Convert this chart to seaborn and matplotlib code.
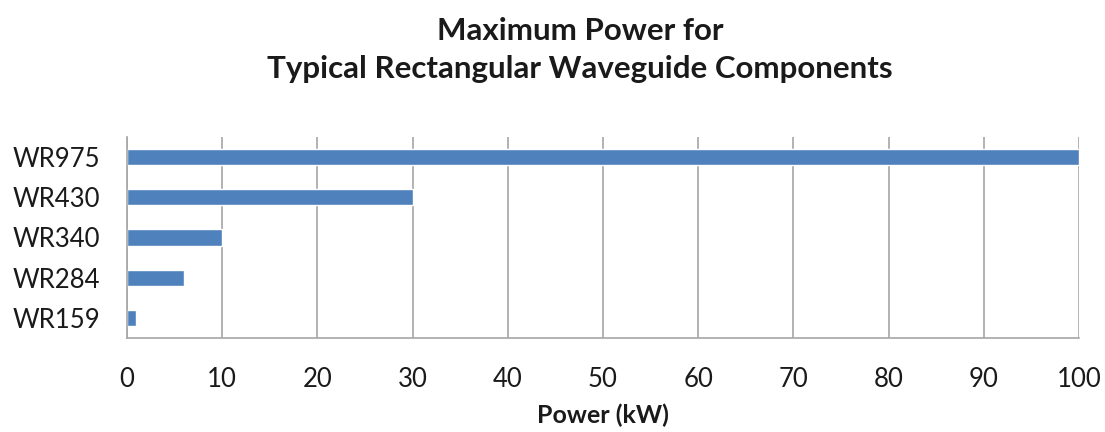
import numpy as np
import pandas as pd
import matplotlib
matplotlib.use("Agg")
import matplotlib.pyplot as plt
import seaborn as sns
from matplotlib.ticker import FixedLocator

categories = ["WR975", "WR430", "WR340", "WR284", "WR159"]
power_kw = [100, 30, 10, 6, 1]
x_ticks = [0, 10, 20, 30, 40, 50, 60, 70, 80, 90, 100]

sns.set_theme(style="white")
plt.rcParams['font.family'] = ['Lato', 'DejaVu Sans']

df = pd.DataFrame({"model": categories, "power": power_kw})

fig = plt.figure(figsize=(11.05, 4.32), dpi=100)
ax = fig.add_axes([0.1149, 0.2176, 0.9765 - 0.1149, 0.6829 - 0.2176])

sns.barplot(data=df, x="power", y="model", order=categories, color="#4F81BD",
            saturation=1, width=0.4, ax=ax)

grid_c = "#A6A6A6"
ax.set_xlim(0, 100)
ax.set_ylim(len(categories) - 0.5, -0.5)
ax.set_xticks(x_ticks)
ax.set_xticklabels([str(t) for t in x_ticks], fontsize=18.5, color="#1a1a1a")
ax.xaxis.grid(True, color=grid_c, linewidth=1.2)
ax.set_axisbelow(True)
ax.tick_params(axis="x", length=8, width=1.2, color=grid_c, direction="out", pad=13)
ax.tick_params(axis="y", which="major", length=0, pad=19, labelsize=18.5, labelcolor="#1a1a1a")
ax.yaxis.set_minor_locator(FixedLocator(np.arange(-0.5, len(categories), 1.0)))
ax.tick_params(axis="y", which="minor", length=8, width=1.2, color=grid_c, direction="out")

for s in ["top", "right"]:
    ax.spines[s].set_visible(False)
for s in ["left", "bottom"]:
    ax.spines[s].set_color(grid_c)
    ax.spines[s].set_linewidth(1.2)

ax.set_ylabel("")
ax.set_xlabel("Power (kW)", fontsize=18, fontweight="bold", color="#1a1a1a", labelpad=8)

fig.text(0.525, 0.885, "Maximum Power for\nTypical Rectangular Waveguide Components",
         ha="center", va="center", fontsize=22.5, fontweight="bold", color="#1a1a1a",
         linespacing=1.45)

fig.savefig("out.png", dpi=100, facecolor="white")
